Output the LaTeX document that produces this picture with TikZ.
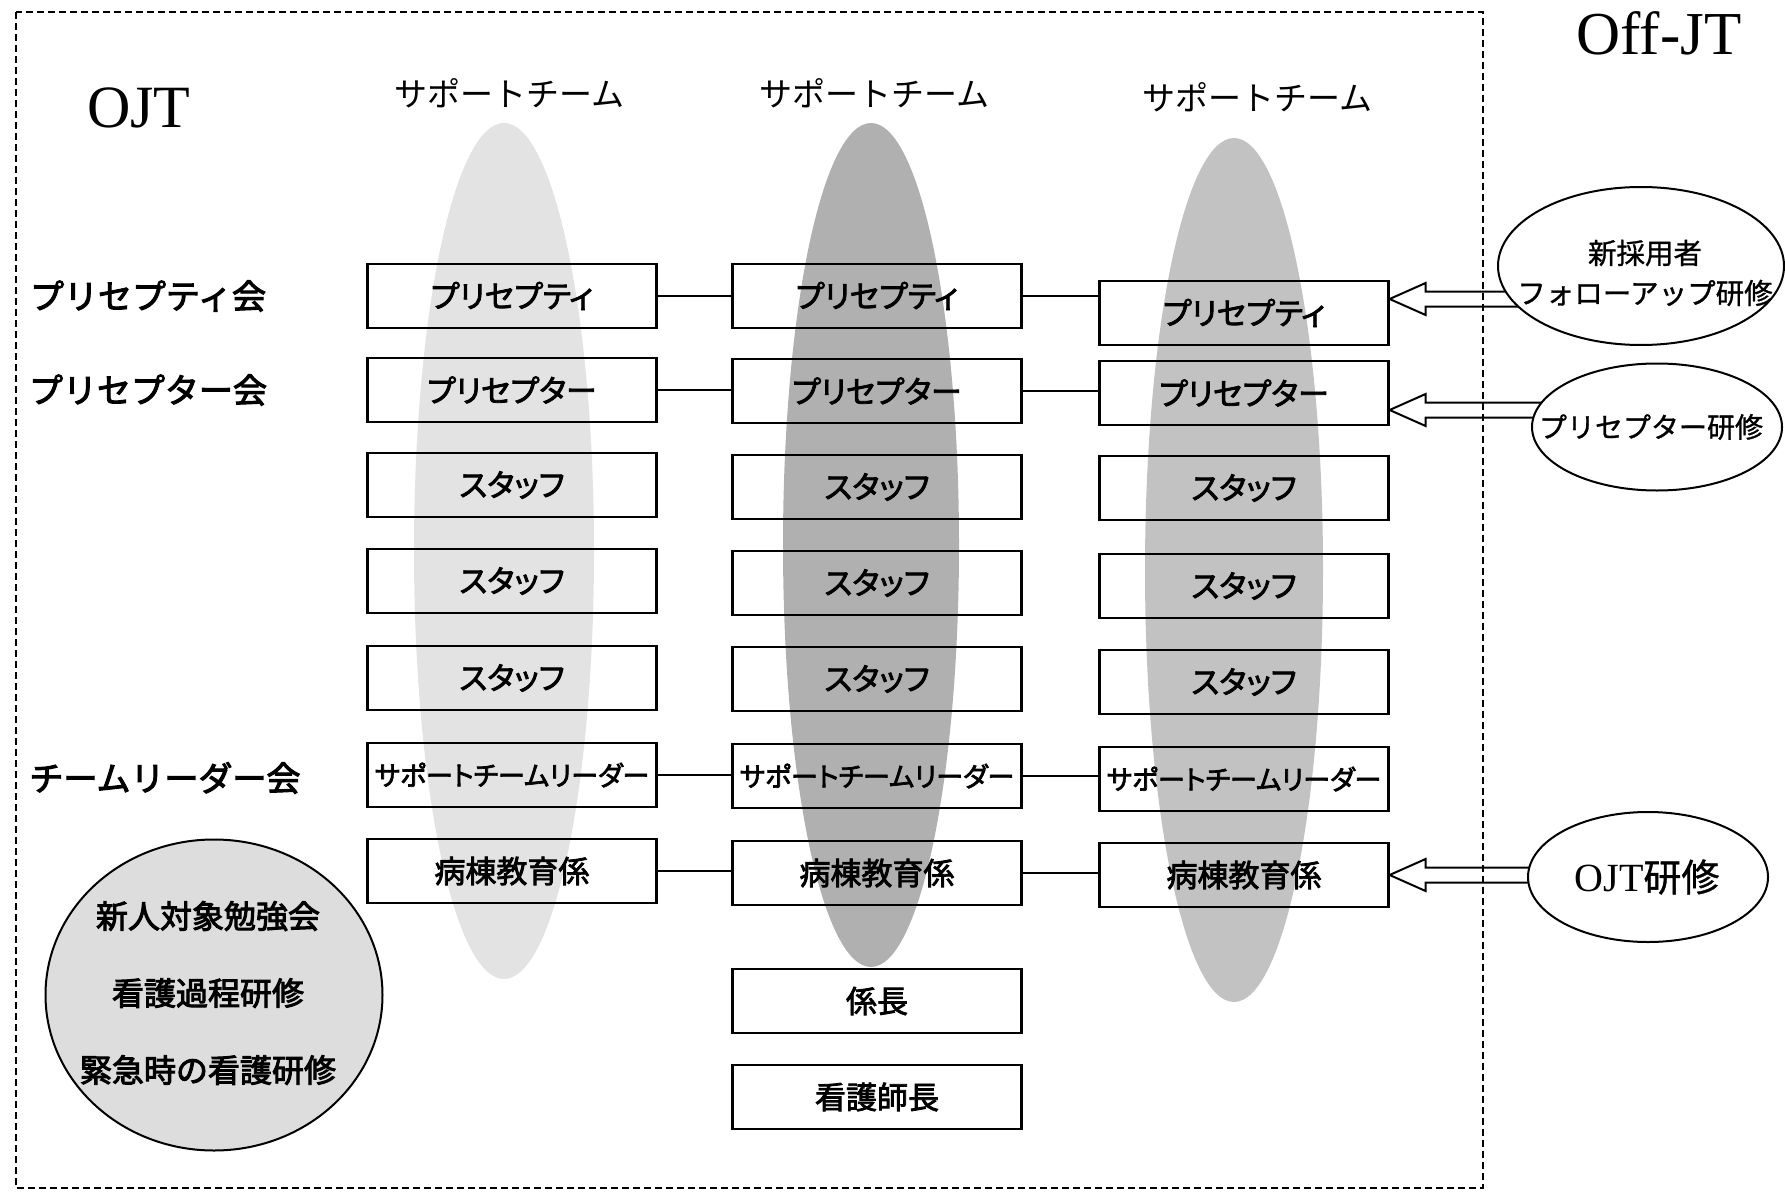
\documentclass[tikz,border=0pt]{standalone}
\usepackage{fontspec}
\setmainfont{Liberation Serif}
\newfontfamily\jp{Noto Sans CJK JP}
\newfontfamily\jpm[FakeBold=1]{Noto Sans CJK JP}
\newfontfamily\jpb[FakeBold=3]{Noto Sans CJK JP}
\newfontfamily\jppb[RawFeature=+palt,FakeBold=2.5]{Noto Sans CJK JP}
\usetikzlibrary{shapes.geometric,calc}
\newcommand\blockarrow[2]{%
  \draw[arrowline] let \p1=(#1), \p2=(#2) in
    (\p2) -- ++(36pt,16pt) -- ++(0pt,-8.5pt) -- (\x1,\y2+7.5pt) -- (\x1,\y2-7.5pt)
    -- (\x2+36pt,\y2-7.5pt) -- ++(0pt,-8.5pt) -- cycle;}
\begin{document}
\begin{tikzpicture}[x=1pt,y=-1pt,
  box/.style={draw, line width=2.2pt, minimum width=289pt, minimum height=64pt, inner sep=0pt,
    font={\jppb\fontsize{31}{37}\selectfont}},
  smallbox/.style={box, font={\jppb\fontsize{27}{32}\selectfont}},
  conn/.style={line width=1.8pt},
  teamell/.style={ellipse, inner sep=0pt, draw=none},
  offell/.style={ellipse, draw, line width=2pt, fill=white, inner sep=0pt},
  arrowline/.style={line width=2pt, line join=miter},
  sidelabel/.style={font={\jpb\fontsize{34}{40}\selectfont}},
  header/.style={font={\jp\fontsize{33}{40}\selectfont}},
  framestyle/.style={line width=1.5pt, dash pattern=on 7pt off 4pt}]
\useasboundingbox (0,0) rectangle (1785,1193);

% shaded support-team ellipses
\node[teamell, fill=gray!22, minimum width=180pt, minimum height=856pt] (sh1) at (504,551) {};
\node[teamell, fill=gray!62, minimum width=176pt, minimum height=844pt] (sh2) at (871,545) {};
\node[teamell, fill=gray!48, minimum width=178pt, minimum height=864pt] (sh3) at (1234,570) {};

% study circle
\node[ellipse, draw, line width=2pt, fill=gray!27, minimum width=337pt, minimum height=311pt, inner sep=0pt] (study) at (214,995) {};
\node[align=center, font={\jpb\fontsize{32}{77}\selectfont}] (studytxt) at (208,993) {新人対象勉強会\\看護過程研修\\緊急時の看護研修};

% titles
\node[font={\fontsize{60}{70}\selectfont}] (ojt) at (139,108) {OJT};
\node[font={\fontsize{61}{70}\selectfont}] (offjt) at (1659,33) {Off-JT};
\node[header] (h1) at (509,93) {サポートチーム};
\node[header] (h2) at (874,93) {サポートチーム};
\node[header] (h3) at (1257,97) {サポートチーム};

% side labels
\node[sidelabel] (l1) at (148,296) {プリセプティ会};
\node[sidelabel] (l2) at (148,390) {プリセプター会};
\node[sidelabel] (l3) at (165,778) {チームリーダー会};

% column 1
\node[box] (b11) at (512,296) {プリセプティ};
\node[box] (b12) at (512,390) {プリセプター};
\node[box] (b13) at (512,485) {スタッフ};
\node[box] (b14) at (512,581) {スタッフ};
\node[box] (b15) at (512,678) {スタッフ};
\node[smallbox] (b16) at (512,775) {サポートチームリーダー};
\node[box] (b17) at (512,871) {病棟教育係};
% column 2
\node[box] (b21) at (877,296) {プリセプティ};
\node[box] (b22) at (877,391) {プリセプター};
\node[box] (b23) at (877,487) {スタッフ};
\node[box] (b24) at (877,583) {スタッフ};
\node[box] (b25) at (877,679) {スタッフ};
\node[smallbox] (b26) at (877,776) {サポートチームリーダー};
\node[box] (b27) at (877,873) {病棟教育係};
\node[box] (b28) at (877,1001) {係長};
\node[box] (b29) at (877,1097) {看護師長};
% column 3
\node[box] (b31) at (1244,313) {プリセプティ};
\node[box] (b32) at (1244,393) {プリセプター};
\node[box] (b33) at (1244,488) {スタッフ};
\node[box] (b34) at (1244,586) {スタッフ};
\node[box] (b35) at (1244,682) {スタッフ};
\node[smallbox] (b36) at (1244,779) {サポートチームリーダー};
\node[box] (b37) at (1244,875) {病棟教育係};

% connectors
\draw[conn] (b11.east) -- (b11.east -| b21.west);
\draw[conn] (b21.east) -- (b21.east -| b31.west);
\draw[conn] (b12.east) -- (b12.east -| b22.west);
\draw[conn] (b22.east) -- (b22.east -| b32.west);
\draw[conn] (b16.east) -- (b16.east -| b26.west);
\draw[conn] (b26.east) -- (b26.east -| b36.west);
\draw[conn] (b17.east) -- (b17.east -| b27.west);
\draw[conn] (b27.east) -- (b27.east -| b37.west);

% Off-JT block arrows (tails hidden under the ellipses)
\coordinate (e1c) at (1641,266);
\coordinate (e2c) at (1657,427);
\coordinate (e3c) at (1648,877);
\blockarrow{e1c}{$(b31.east)+(0,-14)$}
\blockarrow{e2c}{$(b32.east)+(0,17)$}
\blockarrow{e3c}{b37.east}

% Off-JT ellipses
\node[offell, minimum width=286pt, minimum height=158pt] (e1) at (e1c) {};
\node[offell, minimum width=250pt, minimum height=127pt] (e2) at (e2c) {};
\node[offell, minimum width=240pt, minimum height=130pt] (e3) at (e3c) {};
\node[align=center, font={\jpm\fontsize{28.5}{40}\selectfont}] (e1t) at (1645,273) {新採用者\\フォローアップ研修};
\node[font={\jpm\fontsize{28}{34}\selectfont}] (e2t) at (1651,427) {プリセプター研修};
\node[font={\fontsize{40}{46}\selectfont}] (e3t) at (1647,877) {OJT{\jpm\fontsize{38}{46}\selectfont 研修}};

% OJT frame
\draw[framestyle] (16,12) rectangle (1483,1188);
\end{tikzpicture}
\end{document}
